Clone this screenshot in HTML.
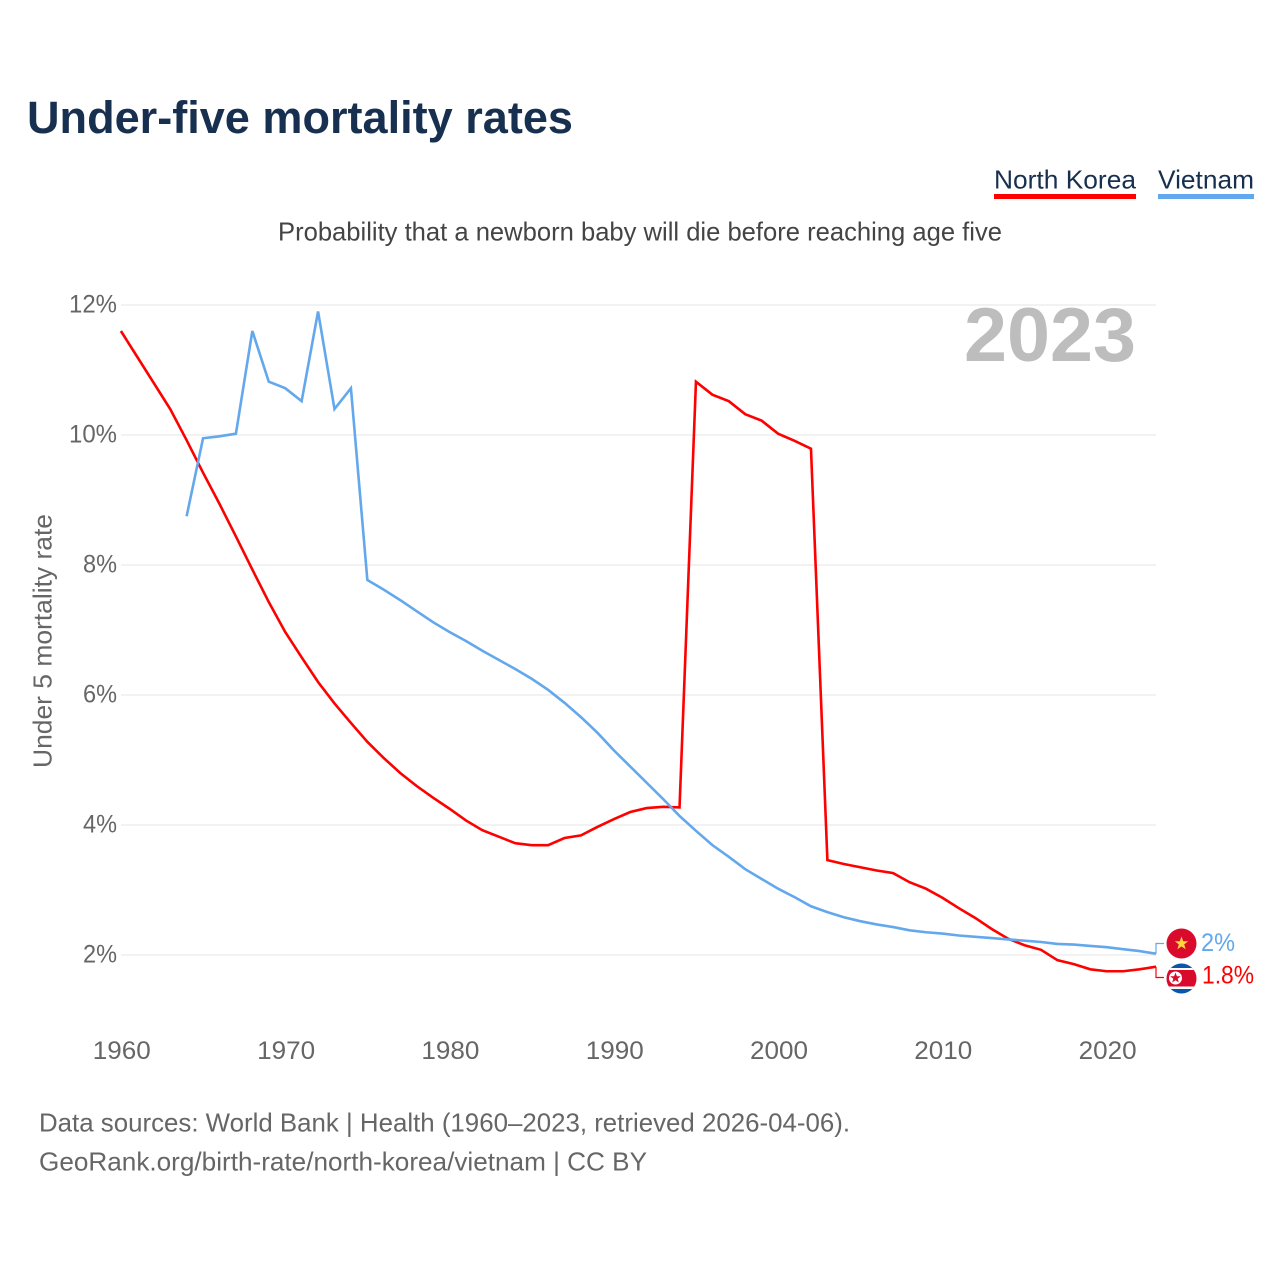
<!DOCTYPE html>
<html lang="en">
<head>
<meta charset="utf-8">
<title>Under-five mortality rates</title>
<style>
html,body{margin:0;padding:0;background:#fff;width:1280px;height:1280px;overflow:hidden}
svg{display:block}
text{font-family:"Liberation Sans",sans-serif}
</style>
</head>
<body>
<svg id="chart" xmlns="http://www.w3.org/2000/svg" width="1280" height="1280" viewBox="0 0 1280 1280">
  <rect x="0" y="0" width="1280" height="1280" fill="#fff"/>
  <text x="27" y="133" font-size="45" font-weight="700" fill="#18304f" textLength="546" lengthAdjust="spacingAndGlyphs">Under-five mortality rates</text>
  <g>
    <text x="994" y="188.5" font-size="26" fill="#18304f" textLength="142" lengthAdjust="spacingAndGlyphs">North Korea</text>
    <rect x="994" y="194" width="142" height="5" fill="#ff0000"/>
  </g>
  <g>
    <text x="1158" y="188.5" font-size="26" fill="#18304f" textLength="96" lengthAdjust="spacingAndGlyphs">Vietnam</text>
    <rect x="1158" y="194" width="96" height="5" fill="#63a8ec"/>
  </g>
  <text x="278" y="240.5" font-size="26" fill="#444" textLength="724" lengthAdjust="spacingAndGlyphs">Probability that a newborn baby will die before reaching age five</text>
  <g id="grid"></g>
  <g id="yticks"></g>
  <g id="xticks"></g>
  <text transform="translate(51.5,641) rotate(-90)" x="-127" y="0" font-size="26" fill="#666" textLength="254" lengthAdjust="spacingAndGlyphs">Under 5 mortality rate</text>
  <text x="1136" y="361" font-size="76" font-weight="700" fill="#bdbdbd" text-anchor="end" textLength="172" lengthAdjust="spacingAndGlyphs">2023</text>
  <g id="series"></g>
  <g id="ends"></g>
  <g>
    <circle cx="1181.5" cy="943.5" r="15" fill="#da0a2c"/>
    <polygon points="1181.5,936.5 1183.2,941.2 1188.2,941.3 1184.2,944.4 1185.6,949.2 1181.5,946.4 1177.4,949.2 1178.8,944.4 1174.8,941.3 1179.8,941.2" fill="#ffd83d"/>
  </g>
  <g>
    <clipPath id="nk-clip"><circle cx="1181.5" cy="978.5" r="15"/></clipPath>
    <g clip-path="url(#nk-clip)">
      <rect x="1166" y="963" width="31" height="31" fill="#0a56a8"/>
      <rect x="1166" y="968" width="31" height="21" fill="#fff"/>
      <rect x="1166" y="970" width="31" height="16.5" fill="#da0a2c"/>
      <circle cx="1175.5" cy="978" r="6.5" fill="#fff"/>
      <polygon points="1175.5,972.5 1176.9,976.2 1180.8,976.3 1177.7,978.7 1178.8,982.5 1175.5,980.3 1172.2,982.5 1173.3,978.7 1170.2,976.3 1174.1,976.2" fill="#da0a2c"/>
    </g>
  </g>
  <text x="39" y="1131.5" font-size="26" fill="#666" textLength="811" lengthAdjust="spacingAndGlyphs">Data sources: World Bank | Health (1960–2023, retrieved 2026-04-06).</text>
  <text x="39" y="1170.5" font-size="26" fill="#666" textLength="608" lengthAdjust="spacingAndGlyphs">GeoRank.org/birth-rate/north-korea/vietnam | CC BY</text>
</svg>
<script>
const northKoreaYears = [1960,1961,1962,1963,1964,1965,1966,1967,1968,1969,1970,1971,1972,1973,1974,1975,1976,1977,1978,1979,1980,1981,1982,1983,1984,1985,1986,1987,1988,1989,1990,1991,1992,1993,1994,1995,1996,1997,1998,1999,2000,2001,2002,2003,2004,2005,2006,2007,2008,2009,2010,2011,2012,2013,2014,2015,2016,2017,2018,2019,2020,2021,2022,2023];
const northKoreaValues = [11.6,11.2,10.8,10.4,9.92,9.42,8.94,8.44,7.93,7.43,6.97,6.58,6.2,5.87,5.57,5.28,5.03,4.8,4.6,4.42,4.25,4.07,3.92,3.82,3.72,3.69,3.69,3.8,3.84,3.97,4.09,4.2,4.26,4.28,4.27,10.82,10.62,10.52,10.32,10.22,10.02,9.91,9.79,3.46,3.4,3.35,3.3,3.26,3.12,3.02,2.88,2.72,2.57,2.4,2.25,2.15,2.08,1.92,1.86,1.78,1.75,1.75,1.78,1.82];
const vietnamYears = [1964,1965,1966,1967,1968,1969,1970,1971,1972,1973,1974,1975,1976,1977,1978,1979,1980,1981,1982,1983,1984,1985,1986,1987,1988,1989,1990,1991,1992,1993,1994,1995,1996,1997,1998,1999,2000,2001,2002,2003,2004,2005,2006,2007,2008,2009,2010,2011,2012,2013,2014,2015,2016,2017,2018,2019,2020,2021,2022,2023];
const vietnamValues = [8.75,9.95,9.98,10.02,11.6,10.82,10.72,10.52,11.9,10.4,10.72,7.77,7.62,7.46,7.29,7.12,6.97,6.83,6.68,6.54,6.4,6.25,6.08,5.88,5.66,5.42,5.15,4.9,4.65,4.4,4.14,3.91,3.69,3.51,3.32,3.17,3.02,2.89,2.75,2.66,2.58,2.52,2.47,2.43,2.38,2.35,2.33,2.3,2.28,2.26,2.24,2.22,2.2,2.17,2.16,2.14,2.12,2.09,2.06,2.02];
const yTickValues = [2,4,6,8,10,12];
const yTickLabels = ['2%','4%','6%','8%','10%','12%'];
const xTickValues = [1960,1970,1980,1990,2000,2010,2020];
const xTickLabels = ['1960','1970','1980','1990','2000','2010','2020'];
const northKoreaEndLabel = '1.8%';
const vietnamEndLabel = '2%';

const NS = 'http://www.w3.org/2000/svg';
function xScale(year){ return 120.9 + (year - 1960) * (1156 - 120.9) / 63; }
function yScale(v){ return 955 - (v - 2) * 65; }
function make(tag, parent, attrs){
  const el = document.createElementNS(NS, tag);
  for (const k in attrs) el.setAttribute(k, attrs[k]);
  parent.appendChild(el);
  return el;
}
function linePoints(years, values){
  return years.map((y, i) => xScale(y).toFixed(2) + ',' + yScale(values[i]).toFixed(2)).join(' ');
}

const grid = document.getElementById('grid');
const yticks = document.getElementById('yticks');
const xticks = document.getElementById('xticks');
const series = document.getElementById('series');
const ends = document.getElementById('ends');

yTickValues.forEach((v, i) => {
  const line = make('line', grid, {x1: 121, x2: 1156, y1: yScale(v), y2: yScale(v), stroke: '#eeeeee', 'stroke-width': 1.6});
  
  
  const label = make('text', yticks, {x: 117, y: yScale(v) + 7.5, 'font-size': 25, fill: '#666', 'text-anchor': 'end', textLength: yTickLabels[i].length > 2 ? 48 : 34, lengthAdjust: 'spacingAndGlyphs'});
  label.textContent = yTickLabels[i];
  
  
});

xTickValues.forEach((v, i) => {
  const label = make('text', xticks, {x: xScale(v) + 0.9, y: 1059, 'font-size': 25, fill: '#666', 'text-anchor': 'middle', textLength: 58, lengthAdjust: 'spacingAndGlyphs'});
  label.textContent = xTickLabels[i];
  
  
});

const nkLine = make('polyline', series, {points: linePoints(northKoreaYears, northKoreaValues), fill: 'none', stroke: '#ff0000', 'stroke-width': 2.6, 'stroke-linejoin': 'miter'});


const vnLine = make('polyline', series, {points: linePoints(vietnamYears, vietnamValues), fill: 'none', stroke: '#63a8ec', 'stroke-width': 2.6, 'stroke-linejoin': 'miter'});



const vnEndY = yScale(vietnamValues[vietnamValues.length - 1]);
const nkEndY = yScale(northKoreaValues[northKoreaValues.length - 1]);
const endX = xScale(2023);
const vnConn = make('polyline', ends, {points: endX + ',' + vnEndY + ' ' + endX + ',943.5 1164,943.5', fill: 'none', stroke: '#63a8ec', 'stroke-width': 1.2});


const nkConn = make('polyline', ends, {points: endX + ',' + nkEndY + ' ' + endX + ',977.5 1164,977.5', fill: 'none', stroke: '#ff0000', 'stroke-width': 1.2});



const vnLabel = make('text', ends, {x: 1201, y: 951, 'font-size': 25, fill: '#63a8ec', textLength: 34, lengthAdjust: 'spacingAndGlyphs'});
vnLabel.textContent = vietnamEndLabel;


const nkLabel = make('text', ends, {x: 1202, y: 983.5, 'font-size': 25, fill: '#ff0000', textLength: 52, lengthAdjust: 'spacingAndGlyphs'});
nkLabel.textContent = northKoreaEndLabel;


</script>
</body>
</html>
